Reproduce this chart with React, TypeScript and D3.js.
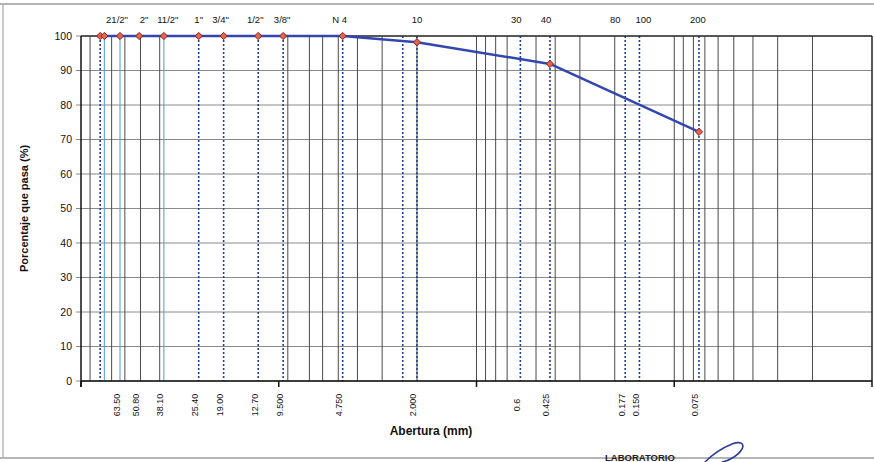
import React from "react";
import * as d3 from "d3";

// Sieve openings (mm) and the percentage of material passing each one
const sieveSizes = [80, 76.2, 63.5, 50.8, 38.1, 25.4, 19.0, 12.7, 9.5, 4.75, 2.0, 0.425, 0.075];
const percentPassing = [100, 100, 100, 100, 100, 100, 100, 100, 100, 100, 98.2, 91.9, 72.2];

// Sieve reference lines drawn across the plot
const dashedSieves = [80, 25.4, 19.0, 12.7, 9.5, 4.75, 2.36, 2.0, 0.6, 0.425, 0.177, 0.15, 0.075];
const solidSieves = [76.2, 63.5, 38.1];

// Sieve designations printed above the plot
const topLabels = ["21/2\"", "2\"", "11/2\"", "1\"", "3/4\"", "1/2\"", "3/8\"", "N 4", "10", "30", "40", "80", "100", "200"];
const topLabelSizes = [63.5, 50.8, 38.1, 25.4, 19.0, 12.7, 9.5, 4.75, 2.0, 0.6, 0.425, 0.177, 0.15, 0.075];
const topLabelNudge = [-3, 5, 4, 0, -3, -3, -1, -3, 0, -4, -4, -10, 4, -1];

// Opening values printed under the axis
const bottomLabels = ["63.50", "50.80", "38.10", "25.40", "19.00", "12.70", "9.500", "4.750", "2.000", "0.6", "0.425", "0.177", "0.150", "0.075"];
const bottomLabelSizes = [63.5, 50.8, 38.1, 25.4, 19.0, 12.7, 9.5, 4.75, 2.0, 0.6, 0.425, 0.177, 0.15, 0.075];

// Logarithmic grid lines
const logGrid = [90, 70, 60, 50, 40, 9, 7, 6, 5, 4, 3, 2, 1, 0.9, 0.8, 0.7, 0.5, 0.4, 0.3, 0.2, 0.1, 0.09, 0.08, 0.07, 0.06, 0.05, 0.04, 0.03, 0.02];
const decadeTicks = [100, 10, 1, 0.1, 0.01];
const yTicks = [0, 10, 20, 30, 40, 50, 60, 70, 80, 90, 100];

const W = 874;
const H = 462;
const FONT = "'Liberation Sans', Arial, Helvetica, sans-serif";

// Small square diamond used as the point marker
const MARK = "M0,-3.6L3.6,0L0,3.6L-3.6,0Z";

export default function App() {
  const x = d3.scaleLog().domain([100, 0.01]).range([81, 872]);
  const y = d3.scaleLinear().domain([0, 100]).range([381, 36]);
  const top = y(100);
  const bottom = y(0);

  const points = sieveSizes.map((s, i) => [s, percentPassing[i]] as [number, number]);
  const line = d3
    .line<[number, number]>()
    .x((d) => x(d[0]))
    .y((d) => y(d[1]));

  return (
    <svg
      width={W}
      height={H}
      viewBox={`0 0 ${W} ${H}`}
      style={{ position: "absolute", left: 0, top: 0, background: "#fff" }}
      fontFamily={FONT}
    >
      {/* page frame */}
      <line x1={0} x2={W} y1={4} y2={4} stroke="#9a9a9a" strokeWidth={1.5} />
      <line x1={3} x2={3} y1={4} y2={458} stroke="#a8a8a8" strokeWidth={1.2} />
      <line x1={0} x2={W} y1={458} y2={458} stroke="#b5b5b5" strokeWidth={2} />

      {/* horizontal grid */}
      {yTicks.map((t) => (
        <line key={`h${t}`} x1={76} x2={x(0.01)} y1={y(t)} y2={y(t)} stroke="#8a8a8a" strokeWidth={1} />
      ))}

      {/* logarithmic vertical grid */}
      {logGrid.map((v) => (
        <line key={`g${v}`} x1={x(v)} x2={x(v)} y1={top} y2={bottom} stroke="#4a4a4a" strokeWidth={1} />
      ))}

      {/* sieve reference lines */}
      {solidSieves.map((v) => (
        <line key={`s${v}`} x1={x(v)} x2={x(v)} y1={top} y2={bottom} stroke="#5a9fe0" strokeWidth={1.1} />
      ))}
      {dashedSieves.map((v) => (
        <line
          key={`d${v}`}
          x1={x(v)}
          x2={x(v)}
          y1={top}
          y2={bottom}
          stroke="#1d3f9e"
          strokeWidth={1.6}
          strokeDasharray="2 2"
        />
      ))}

      {/* plot frame */}
      <line x1={x(100)} x2={x(0.01)} y1={top} y2={top} stroke="#333" strokeWidth={1.5} />
      <line x1={x(0.01)} x2={x(0.01)} y1={top} y2={bottom} stroke="#222" strokeWidth={1.5} />
      <line x1={x(100)} x2={x(100)} y1={top} y2={bottom + 6} stroke="#111" strokeWidth={1.5} />
      <line x1={x(100)} x2={x(0.01)} y1={bottom} y2={bottom} stroke="#111" strokeWidth={1.5} />
      {decadeTicks.map((v) => (
        <line key={`t${v}`} x1={x(v)} x2={x(v)} y1={bottom} y2={bottom + 6} stroke="#111" strokeWidth={1.5} />
      ))}

      {/* y axis labels */}
      {yTicks.map((t) => (
        <text key={`yl${t}`} x={72} y={y(t)} dy="0.35em" textAnchor="end" fontSize={10.5} fill="#111">
          {t}
        </text>
      ))}

      {/* grading curve */}
      <path d={line(points) ?? ""} fill="none" stroke="#3346b0" strokeWidth={2.4} strokeLinejoin="round" />
      {points.map((p, i) => (
        <path
          key={`m${i}`}
          d={MARK}
          transform={`translate(${x(p[0])},${y(p[1])})`}
          fill="#e0674f"
          stroke="#8a1c1c"
          strokeWidth={1}
        />
      ))}

      {/* sieve designations */}
      {topLabels.map((l, i) => (
        <text
          key={`tl${i}`}
          x={x(topLabelSizes[i]) + topLabelNudge[i]}
          y={23}
          textAnchor="middle"
          fontSize={9.5}
          fill="#111"
        >
          {l}
        </text>
      ))}

      {/* opening values */}
      {bottomLabels.map((l, i) => (
        <text
          key={`bl${i}`}
          transform={`translate(${x(bottomLabelSizes[i]) - 0.5},405) rotate(-90)`}
          textAnchor="middle"
          fontSize={9}
          fill="#111"
        >
          {l}
        </text>
      ))}

      {/* axis titles */}
      <text
        transform={`translate(28,${(top + bottom) / 2}) rotate(-90)`}
        textAnchor="middle"
        fontSize={11}
        fontWeight="bold"
        fill="#111"
      >
        Porcentaje que pasa (%)
      </text>
      <text x={431} y={435} textAnchor="middle" fontSize={12} fontWeight="bold" fill="#111">
        Abertura (mm)
      </text>

      {/* stamp and signature */}
      <text x={605} y={461} fontSize={9.5} fontWeight="bold" fill="#222">
        LABORATORIO
      </text>
      <path
        d="M705,462 C712,455 722,448 732,444 C740,441 745,443 742,449 C738,456 728,461 722,462"
        fill="none"
        stroke="#2d3f9c"
        strokeWidth={1.6}
      />
    </svg>
  );
}
